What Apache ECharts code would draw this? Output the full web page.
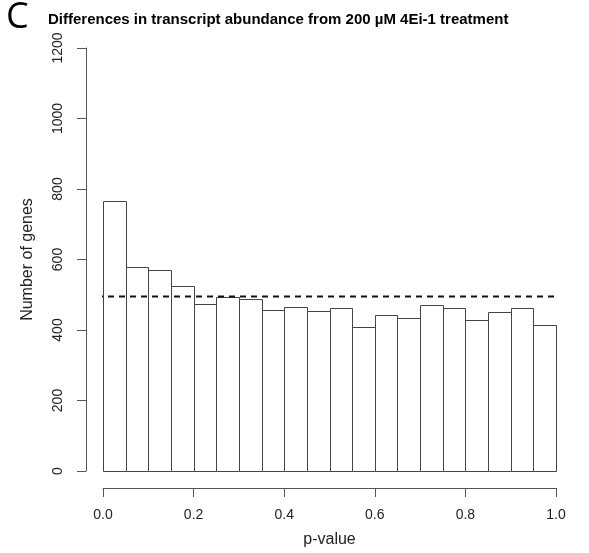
<!DOCTYPE html>
<html>
<head>
<meta charset="utf-8">
<script src="https://cdn.jsdelivr.net/npm/echarts@6/dist/echarts.min.js"></script>
<style>
  html, body { margin: 0; padding: 0; background: #fff; }
  #chart { width: 589px; height: 553px; }
</style>
</head>
<body>
<div id="chart"></div>
<script>
// Histogram of p-values: 20 bins of width 0.05 over [0, 1]
const binEdges = [0.00, 0.05, 0.10, 0.15, 0.20, 0.25, 0.30, 0.35, 0.40, 0.45,
                  0.50, 0.55, 0.60, 0.65, 0.70, 0.75, 0.80, 0.85, 0.90, 0.95, 1.00];
const geneCounts = [767, 578, 571, 524, 475, 495, 489, 458, 465, 454,
                    462, 408, 442, 433, 471, 462, 429, 452, 461, 414];
// Horizontal reference level drawn as a dashed line across the plot
const refLevel = 495;
const refSpan = [-0.0375, 1.009];

const histData = geneCounts.map((c, i) => [binEdges[i], binEdges[i + 1], c]);

const chart = echarts.init(document.getElementById('chart'), null, { renderer: 'canvas' });

const axisGrey = '#555';
const font = 'Liberation Sans, Arial, Helvetica, sans-serif';

chart.setOption({
  animation: false,
  backgroundColor: '#fff',
  title: {
    text: 'Differences in transcript abundance from 200 µM 4Ei-1 treatment',
    left: 43,
    top: 7,
    textStyle: { fontFamily: font, fontWeight: 'bold', fontSize: 15, color: '#000' }
  },
  graphic: [{
    type: 'text',
    left: 6,
    top: 0,
    style: { text: 'C', font: '36px "Open Sans", sans-serif', fill: '#000' }
  }],
  grid: { left: 103, right: 33, top: 48, bottom: 81, containLabel: false },
  xAxis: {
    type: 'value',
    min: 0,
    max: 1,
    interval: 0.2,
    offset: 17,
    name: 'p-value',
    nameLocation: 'middle',
    nameGap: 44,
    nameTextStyle: { fontFamily: font, fontSize: 16, color: '#222' },
    axisLine: { show: true, onZero: false, lineStyle: { color: axisGrey, width: 1 } },
    axisTick: { show: true, length: 9, lineStyle: { color: axisGrey } },
    axisLabel: {
      margin: 20,
      fontFamily: font,
      fontSize: 14,
      color: '#222',
      formatter: v => v.toFixed(1)
    },
    splitLine: { show: false }
  },
  yAxis: {
    type: 'value',
    min: 0,
    max: 1200,
    interval: 200,
    offset: 17,
    name: 'Number of genes',
    nameLocation: 'middle',
    nameGap: 50,
    nameTextStyle: { fontFamily: font, fontSize: 16, color: '#222' },
    axisLine: { show: true, onZero: false, lineStyle: { color: axisGrey, width: 1 } },
    axisTick: { show: true, length: 9, lineStyle: { color: axisGrey } },
    axisLabel: {
      rotate: 90,
      margin: 21,
      fontFamily: font,
      fontSize: 14,
      color: '#222',
      formatter: v => String(v)
    },
    splitLine: { show: false }
  },
  series: [
    {
      type: 'custom',
      data: histData,
      encode: { x: [0, 1], y: 2 },
      renderItem: function (params, api) {
        const p0 = api.coord([api.value(0), api.value(2)]);
        const p1 = api.coord([api.value(1), 0]);
        const x0 = Math.round(p0[0]) + 0.5;
        const x1 = Math.round(p1[0]) + 0.5;
        const y0 = Math.round(p0[1]) + 0.5;
        const y1 = Math.round(p1[1]) + 0.5;
        return {
          type: 'rect',
          shape: { x: x0, y: y0, width: x1 - x0, height: y1 - y0 },
          style: { fill: '#fff', stroke: '#444', lineWidth: 1 }
        };
      }
    },
    {
      type: 'line',
      data: [[refSpan[0], refLevel], [refSpan[1], refLevel]],
      clip: false,
      symbol: 'none',
      z: 5,
      lineStyle: { color: '#111', width: 2, type: [6, 5] }
    }
  ]
});
</script>
</body>
</html>
